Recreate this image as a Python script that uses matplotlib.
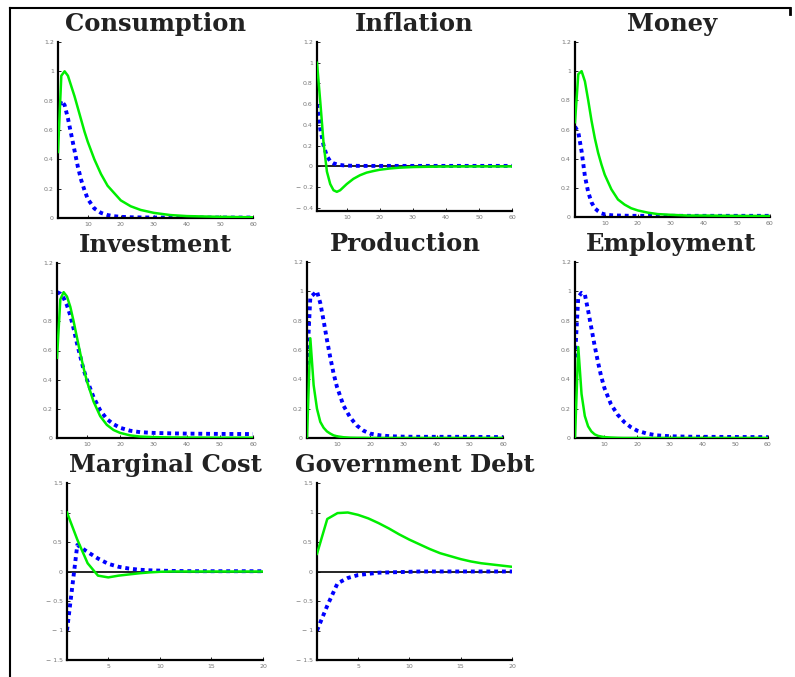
import numpy as np
import matplotlib.pyplot as plt
from matplotlib.lines import Line2D

# horizon grid for the 60-period panels
t60 = [1, 2, 3, 4, 5, 6, 7, 8, 9, 10, 12, 14, 16, 18, 20, 23, 26, 30, 35, 40, 50, 60]
# horizon for the 20-period panels
t20 = list(range(1, 21))

cons_green = [0.45, 0.97, 1.0, 0.97, 0.90, 0.83, 0.75, 0.67, 0.59, 0.52, 0.40, 0.30, 0.22, 0.17, 0.12,
              0.08, 0.055, 0.035, 0.02, 0.013, 0.008, 0.005]
cons_blue = [0.72, 0.80, 0.77, 0.68, 0.57, 0.46, 0.35, 0.26, 0.19, 0.13, 0.065, 0.035, 0.02, 0.012, 0.008,
             0.005, 0.004, 0.003, 0.003, 0.003, 0.003, 0.003]

infl_green = [1.0, 0.62, 0.22, -0.05, -0.17, -0.23, -0.245, -0.23, -0.20, -0.17, -0.12, -0.085, -0.06,
              -0.045, -0.032, -0.02, -0.012, -0.006, -0.003, -0.001, 0.0, 0.0]
infl_blue = [0.6, 0.36, 0.20, 0.10, 0.05, 0.03, 0.02, 0.014, 0.01, 0.008, 0.006, 0.005, 0.005, 0.005,
             0.005, 0.005, 0.005, 0.005, 0.005, 0.005, 0.005, 0.005]

money_green = [0.65, 0.98, 1.0, 0.93, 0.80, 0.66, 0.54, 0.44, 0.36, 0.29, 0.19, 0.12, 0.085, 0.06, 0.045,
               0.03, 0.02, 0.015, 0.01, 0.01, 0.008, 0.007]
money_blue = [0.62, 0.58, 0.45, 0.28, 0.17, 0.10, 0.06, 0.04, 0.025, 0.018, 0.012, 0.01, 0.009, 0.008,
              0.008, 0.008, 0.008, 0.008, 0.008, 0.008, 0.008, 0.008]

inv_green = [0.55, 0.95, 1.0, 0.97, 0.90, 0.80, 0.69, 0.58, 0.48, 0.39, 0.25, 0.15, 0.09, 0.055, 0.035,
             0.018, 0.01, 0.006, 0.004, 0.003, 0.002, 0.002]
inv_blue = [1.0, 0.99, 0.96, 0.91, 0.84, 0.75, 0.65, 0.56, 0.47, 0.40, 0.28, 0.19, 0.13, 0.095, 0.07,
            0.05, 0.04, 0.035, 0.032, 0.03, 0.028, 0.027]

prod_green = [0.0, 0.68, 0.36, 0.20, 0.11, 0.07, 0.045, 0.03, 0.018, 0.012, 0.005, 0.002, 0.001, 0.001,
              0.0, 0.0, 0.0, 0.0, 0.0, 0.0, 0.0, 0.0]
prod_blue = [0.5, 0.96, 0.98, 1.0, 0.92, 0.80, 0.67, 0.55, 0.44, 0.35, 0.22, 0.14, 0.085, 0.05, 0.03,
             0.018, 0.012, 0.009, 0.008, 0.008, 0.008, 0.006]

emp_green = [0.0, 0.62, 0.30, 0.15, 0.08, 0.045, 0.025, 0.015, 0.01, 0.006, 0.003, 0.001, 0.0, 0.0,
             0.0, 0.0, 0.0, 0.0, 0.0, 0.0, 0.0, 0.0]
emp_blue = [0.55, 0.96, 0.99, 0.98, 0.87, 0.75, 0.63, 0.52, 0.42, 0.34, 0.23, 0.16, 0.11, 0.075, 0.05,
            0.03, 0.018, 0.012, 0.009, 0.008, 0.007, 0.006]

mc_green = [1.0, 0.54, 0.14, -0.07, -0.10, -0.07, -0.05, -0.03, -0.015, -0.005, 0.0, 0.0, 0.0, 0.0,
            0.0, 0.0, 0.0, 0.0, 0.0, 0.0]
mc_blue = [-1.0, 0.45, 0.33, 0.22, 0.13, 0.08, 0.05, 0.03, 0.02, 0.015, 0.01, 0.008, 0.006, 0.005,
           0.005, 0.005, 0.005, 0.005, 0.005, 0.005]

debt_green = [0.3, 0.89, 0.99, 1.0, 0.96, 0.90, 0.82, 0.73, 0.63, 0.54, 0.46, 0.38, 0.31, 0.26, 0.21,
              0.17, 0.14, 0.12, 0.10, 0.08]
debt_blue = [-1.0, -0.58, -0.20, -0.11, -0.06, -0.04, -0.02, -0.015, -0.01, -0.005, 0.0, 0.0, 0.0, 0.0,
             0.0, 0.0, 0.0, 0.0, 0.0, 0.0]

titles = ["Consumption", "Inflation", "Money", "Investment", "Production", "Employment",
          "Marginal Cost", "Government Debt"]

pos_ticks = [0, 0.2, 0.4, 0.6, 0.8, 1, 1.2]
pos_labels = ["0", "0.2", "0.4", "0.6", "0.8", "1", "1.2"]
infl_ticks = [-0.4, -0.2, 0, 0.2, 0.4, 0.6, 0.8, 1, 1.2]
infl_labels = ["\u2212 0.4", "\u2212 0.2", "0", "0.2", "0.4", "0.6", "0.8", "1", "1.2"]
wide_ticks = [-1.5, -1, -0.5, 0, 0.5, 1, 1.5]
wide_labels = ["\u2212 1.5", "\u2212 1", "\u2212 0.5", "0", "0.5", "1", "1.5"]
x60_ticks = [10, 20, 30, 40, 50, 60]
x20_ticks = [5, 10, 15, 20]

W, H = 795, 677
fig = plt.figure(figsize=(W / 100, H / 100), dpi=100)

def px_axes(x0, y0, x1, y1):
    return fig.add_axes([x0 / W, 1 - y1 / H, (x1 - x0) / W, (y1 - y0) / H])

panels = [
    (px_axes(58, 42, 253, 218), t60, cons_green, cons_blue, (0, 1.2), pos_ticks, pos_labels, False),
    (px_axes(317, 42, 512, 211), t60, infl_green, infl_blue, (-0.43, 1.2), infl_ticks, infl_labels, True),
    (px_axes(575, 42, 770, 217), t60, money_green, money_blue, (0, 1.2), pos_ticks, pos_labels, False),
    (px_axes(57, 263, 253, 438), t60, inv_green, inv_blue, (0, 1.2), pos_ticks, pos_labels, False),
    (px_axes(307, 262, 503, 438), t60, prod_green, prod_blue, (0, 1.2), pos_ticks, pos_labels, False),
    (px_axes(575, 262, 768, 438), t60, emp_green, emp_blue, (0, 1.2), pos_ticks, pos_labels, False),
    (px_axes(67, 483, 263, 660), t20, mc_green, mc_blue, (-1.5, 1.5), wide_ticks, wide_labels, True),
    (px_axes(317, 483, 512, 660), t20, debt_green, debt_blue, (-1.5, 1.5), wide_ticks, wide_labels, True),
]

for (ax, t, g, b, ylim, yt, yl, zero), title in zip(panels, titles):
    if zero:
        ax.axhline(0, color="black", lw=1.2, zorder=1)
    ax.plot(t, b, color="#0000ff", lw=2.8, linestyle=(0, (1, 1)), zorder=2)
    ax.plot(t, g, color="#00ee00", lw=1.8, zorder=3)
    ax.set_xlim(t[0], t[-1])
    ax.set_ylim(*ylim)
    ax.set_yticks(yt)
    ax.set_yticklabels(yl)
    ax.set_xticks(x60_ticks if t[-1] == 60 else x20_ticks)
    ax.tick_params(labelsize=4.5, labelcolor="#777777", length=2.5, width=0.6,
                   direction="in", pad=3)
    for s in ["top", "right"]:
        ax.spines[s].set_visible(False)
    for s in ["left", "bottom"]:
        ax.spines[s].set_linewidth(1.6)
    ax.set_title(title, family="DejaVu Serif", fontweight="bold", fontsize=17.5, pad=8,
                 color="#222222")

# page border
fig.add_artist(Line2D([10 / W, 10 / W], [0, 1 - 8 / H], color="black", lw=1.5))
fig.add_artist(Line2D([10 / W, 790 / W], [1 - 8 / H, 1 - 8 / H], color="black", lw=1.5))
fig.add_artist(Line2D([790 / W, 790 / W], [1 - 8 / H, 1 - 14 / H], color="black", lw=2))

fig.savefig("out.png", dpi=100)
plt.close(fig)
